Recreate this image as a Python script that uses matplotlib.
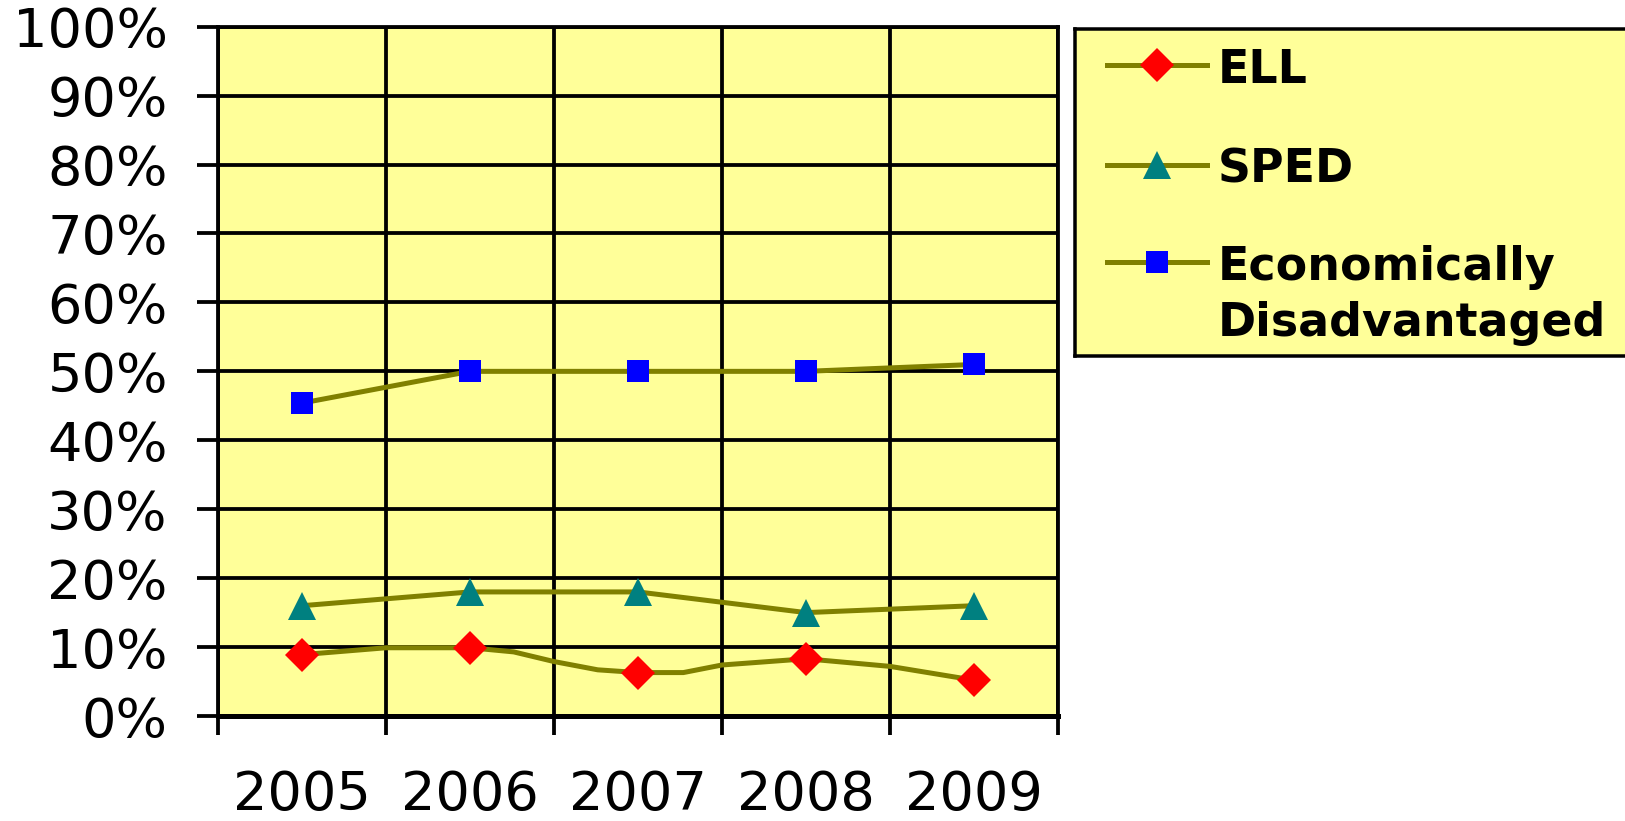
import matplotlib
matplotlib.use("Agg")
import matplotlib.pyplot as plt
from matplotlib.lines import Line2D

# data (percent)
years = ["2005", "2006", "2007", "2008", "2009"]
ell = [8.9, 9.9, 6.3, 8.3, 5.2]
sped = [16, 18, 18, 15, 16]
econ = [45.4, 50, 50, 50, 51]

# the ELL connector in the original is drawn with extra bends between the markers
ell_path_pos = [0, 0.5, 1, 1.26, 1.5, 1.76, 2, 2.27, 2.5, 3, 3.5, 4]
ell_path_val = [8.9, 9.9, 9.9, 9.3, 7.9, 6.7, 6.3, 6.3, 7.4, 8.3, 7.2, 5.2]

y_ticks = list(range(0, 101, 10))
y_labels = [f"{v}%" for v in y_ticks]

series_names = ["ELL", "SPED", "Economically\nDisadvantaged"]
marker_styles = ["D", "^", "s"]
marker_colors = ["#ff0000", "#008080", "#0000ff"]
marker_sizes = [17.5, 20, 15.6]

line_color = "#808000"
plot_bg = "#ffff99"
px = 72 / 100  # one pixel in points at dpi 100

fig = plt.figure(figsize=(16.25, 8.21), dpi=100)
fig.patch.set_facecolor("white")

W, H = 1625, 821
left, right, top, bottom = 218, 1058, 26.7, 716
ax = fig.add_axes([left / W, 1 - bottom / H, (right - left) / W, (bottom - top) / H])
ax.set_facecolor(plot_bg)

x = list(range(len(years)))

ax.plot(ell_path_pos, ell_path_val, color=line_color, lw=5 * px, zorder=3,
        solid_joinstyle="round")
ax.plot(x, sped, color=line_color, lw=5 * px, zorder=3)
ax.plot(x, econ, color=line_color, lw=5 * px, zorder=3)

for vals, m, c, s in zip([ell, sped, econ], marker_styles, marker_colors, marker_sizes):
    ax.plot(x, vals, ls="none", marker=m, ms=s, mfc=c, mec=c, mew=0, zorder=4,
            clip_on=False)

ax.set_xlim(-0.5, len(years) - 0.5)
ax.set_ylim(0, 100)

# category boundaries carry the grid and tick marks, centers carry the labels
ax.set_xticks([i - 0.5 for i in range(len(years) + 1)])
ax.set_xticklabels([])
ax.set_xticks(x, minor=True)
ax.set_xticklabels(years, minor=True, fontsize=39, family="DejaVu Sans")
ax.tick_params(axis="x", which="major", length=19 * px, width=3.8 * px, direction="out")
ax.tick_params(axis="x", which="minor", length=0, pad=38)

ax.set_yticks(y_ticks)
ax.set_yticklabels(y_labels, fontsize=39, family="DejaVu Sans")
ax.tick_params(axis="y", length=21 * px, width=3.8 * px, direction="out", pad=21)

ax.grid(True, which="major", color="black", lw=3.8 * px, zorder=1)
ax.set_axisbelow(True)
for sp in ax.spines.values():
    sp.set_color("black")
    sp.set_linewidth(3.8 * px)
ax.spines["bottom"].set_linewidth(5 * px)

# legend box, drawn by hand so the marker sits on the first text line
lx0, lx1, ly0, ly1 = 1075, 1645, 29.3, 356
lax = fig.add_axes([lx0 / W, 1 - ly1 / H, (lx1 - lx0) / W, (ly1 - ly0) / H])
lax.set_facecolor(plot_bg)
lax.set_xlim(lx0, lx1)
lax.set_ylim(ly1, ly0)
lax.set_xticks([])
lax.set_yticks([])
for sp in lax.spines.values():
    sp.set_color("black")
    sp.set_linewidth(3.5 * px)

row_y = [65, 165, 262]
for name, m, c, s, yy in zip(series_names, marker_styles, marker_colors, marker_sizes, row_y):
    lax.add_line(Line2D([1107, 1207], [yy, yy], color=line_color, lw=5 * px))
    lax.plot([1157], [yy], marker=m, ms=s, mfc=c, mec=c, mew=0, ls="none")
    for k, part in enumerate(name.split("\n")):
        lax.text(1218, yy + k * 56, part, fontsize=33, fontweight="bold",
                 family="DejaVu Sans", va="center_baseline", ha="left")

fig.savefig("out.png", dpi=100)
